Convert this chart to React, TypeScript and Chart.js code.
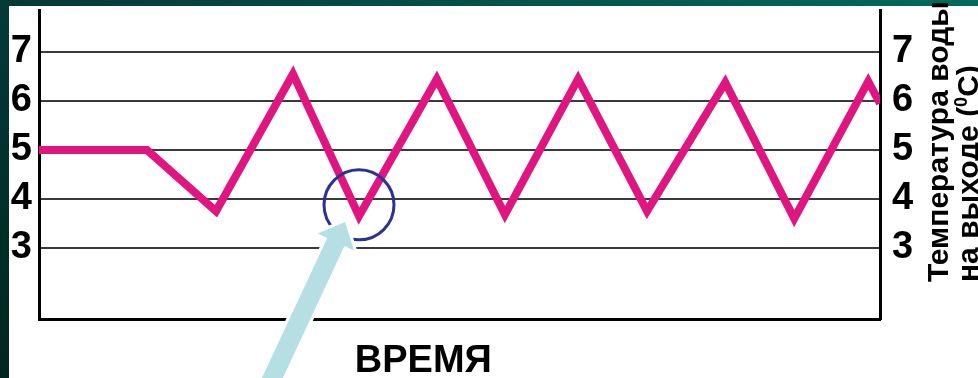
import React, { useEffect, useRef } from 'react';
import { Chart, registerables } from 'chart.js';

Chart.register(...registerables);

// ---- data ----
const timePoints = [0, 12.84, 21.05, 30.2, 38.05, 47.3, 55.4, 64.1, 72.3, 81.6, 89.8, 98.6, 100];
const temperatures = [5.0, 5.0, 3.75, 6.55, 3.65, 6.45, 3.68, 6.45, 3.75, 6.38, 3.6, 6.4, 5.95];
const yTickValues = [3, 4, 5, 6, 7];
const yMin = 1.55;
const yMax = 7.857;
const xAxisTitle = 'ВРЕМЯ';
const yTitleLine1 = 'Температура воды';
const yTitleLine2 = ['на выходе (', '0', 'C)'];
// annotation (circle around a trough + arrow pointing at it)
const highlightIndex = 4;
const circleCenterY = 3.88;
const arrowTip = { x: 36.4, y: 3.53 };

const FONT = '"Liberation Sans", Arial, Helvetica, sans-serif';

const decorPlugin = {
  id: 'decor',
  beforeDraw(chart: any) {
    const { ctx, width, height } = chart;
    ctx.save();
    const gTop = ctx.createLinearGradient(0, 0, width, 0);
    gTop.addColorStop(0, '#073936');
    gTop.addColorStop(1, '#006a5d');
    ctx.fillStyle = gTop;
    ctx.fillRect(0, 0, width, height);
    const gLeft = ctx.createLinearGradient(0, 0, 0, height);
    gLeft.addColorStop(0, '#053a36');
    gLeft.addColorStop(1, '#00261f');
    ctx.fillStyle = gLeft;
    ctx.fillRect(0, 0, 9, height);
    ctx.fillStyle = '#ffffff';
    ctx.fillRect(9, 6, width - 9, height - 6);
    ctx.restore();
  },
  afterDraw(chart: any) {
    const { ctx, chartArea } = chart;
    const xs = chart.scales.x;
    const ys = chart.scales.y;
    ctx.save();

    // circle
    const cx = xs.getPixelForValue(timePoints[highlightIndex]);
    const cy = ys.getPixelForValue(circleCenterY);
    ctx.beginPath();
    ctx.arc(cx, cy, 35, 0, Math.PI * 2);
    ctx.strokeStyle = '#2e3192';
    ctx.lineWidth = 3;
    ctx.stroke();

    // arrow
    const tx = xs.getPixelForValue(arrowTip.x);
    const ty = ys.getPixelForValue(arrowTip.y);
    const ang = (25 * Math.PI) / 180;
    const ux = Math.sin(ang);
    const uy = -Math.cos(ang);
    const nx = -uy;
    const ny = ux;
    const headLen = 22;
    const headHalf = 20;
    const shaftHalf = 9.5;
    const tailLen = 260;
    const bx = tx - ux * headLen;
    const by = ty - uy * headLen;
    const ex = tx - ux * tailLen;
    const ey = ty - uy * tailLen;
    ctx.beginPath();
    ctx.moveTo(tx, ty);
    ctx.lineTo(bx + nx * headHalf, by + ny * headHalf);
    ctx.lineTo(bx + nx * shaftHalf, by + ny * shaftHalf);
    ctx.lineTo(ex + nx * shaftHalf, ey + ny * shaftHalf);
    ctx.lineTo(ex - nx * shaftHalf, ey - ny * shaftHalf);
    ctx.lineTo(bx - nx * shaftHalf, by - ny * shaftHalf);
    ctx.lineTo(bx - nx * headHalf, by - ny * headHalf);
    ctx.closePath();
    ctx.strokeStyle = '#ffffff';
    ctx.lineWidth = 6;
    ctx.lineJoin = 'miter';
    ctx.stroke();
    ctx.fillStyle = '#b6dfe3';
    ctx.fill();

    // x title
    ctx.fillStyle = '#000000';
    ctx.font = `bold 38px ${FONT}`;
    ctx.textAlign = 'center';
    ctx.textBaseline = 'alphabetic';
    ctx.fillText(xAxisTitle, xs.getPixelForValue(45.7), chartArea.bottom + 53);

    // right rotated title
    const startY = chartArea.bottom - 37;
    ctx.textAlign = 'left';
    ctx.save();
    ctx.translate(chartArea.right + 68, startY);
    ctx.rotate(-Math.PI / 2);
    ctx.font = `bold 30px ${FONT}`;
    ctx.fillText(yTitleLine1, 0, 0);
    ctx.restore();

    ctx.save();
    ctx.translate(chartArea.right + 98, startY);
    ctx.rotate(-Math.PI / 2);
    ctx.font = `bold 30px ${FONT}`;
    ctx.fillText(yTitleLine2[0], 0, 0);
    let off = ctx.measureText(yTitleLine2[0]).width;
    ctx.font = `bold 18px ${FONT}`;
    ctx.fillText(yTitleLine2[1], off, -11);
    off += ctx.measureText(yTitleLine2[1]).width;
    ctx.font = `bold 30px ${FONT}`;
    ctx.fillText(yTitleLine2[2], off, 0);
    ctx.restore();

    ctx.restore();
  },
};

const tickFont = { family: FONT, size: 38, weight: 'bold' as const };

export default function App() {
  const ref = useRef<HTMLCanvasElement | null>(null);

  useEffect(() => {
    if (!ref.current) return;
    const chart = new Chart(ref.current, {
      type: 'line',
      data: {
        datasets: [
          {
            data: timePoints.map((t, i) => ({ x: t, y: temperatures[i] })),
            borderColor: '#e0157f',
            borderWidth: 8,
            borderJoinStyle: 'miter',
            borderCapStyle: 'butt',
            pointRadius: 0,
            tension: 0,
            fill: false,
          },
        ],
      },
      options: {
        animation: false,
        responsive: true,
        maintainAspectRatio: false,
        layout: { padding: { top: 10, left: 0, right: 0, bottom: 0 } },
        plugins: {
          legend: { display: false },
          tooltip: { enabled: false },
          title: { display: false },
        },
        scales: {
          x: {
            type: 'linear',
            min: 0,
            max: 100,
            ticks: { display: false },
            grid: { display: false },
            border: { display: true, color: '#000000', width: 3 },
            afterFit: (axis: any) => {
              axis.height = 59;
              axis.paddingLeft = 0;
              axis.paddingRight = 0;
            },
          },
          y: {
            type: 'linear',
            position: 'left',
            min: yMin,
            max: yMax,
            afterBuildTicks: (axis: any) => {
              axis.ticks = yTickValues.map((v) => ({ value: v }));
            },
            afterFit: (axis: any) => {
              axis.width = 39;
              axis.paddingTop = 0;
              axis.paddingBottom = 0;
            },
            grid: { color: '#3a3a3a', lineWidth: 2, drawTicks: false },
            border: { display: true, color: '#000000', width: 3 },
            ticks: { font: tickFont, color: '#000000', padding: 7 },
          },
          y2: {
            type: 'linear',
            position: 'right',
            min: yMin,
            max: yMax,
            afterBuildTicks: (axis: any) => {
              axis.ticks = yTickValues.map((v) => ({ value: v }));
            },
            afterFit: (axis: any) => {
              axis.width = 98;
              axis.paddingTop = 0;
              axis.paddingBottom = 0;
            },
            grid: { display: false, drawTicks: false },
            border: { display: true, color: '#000000', width: 3 },
            ticks: { font: tickFont, color: '#000000', padding: 12 },
          },
        },
      },
      plugins: [decorPlugin],
    });
    return () => chart.destroy();
  }, []);

  return (
    <div style={{ position: 'fixed', left: 0, top: 0, width: 978, height: 378 }}>
      <canvas ref={ref} />
    </div>
  );
}
